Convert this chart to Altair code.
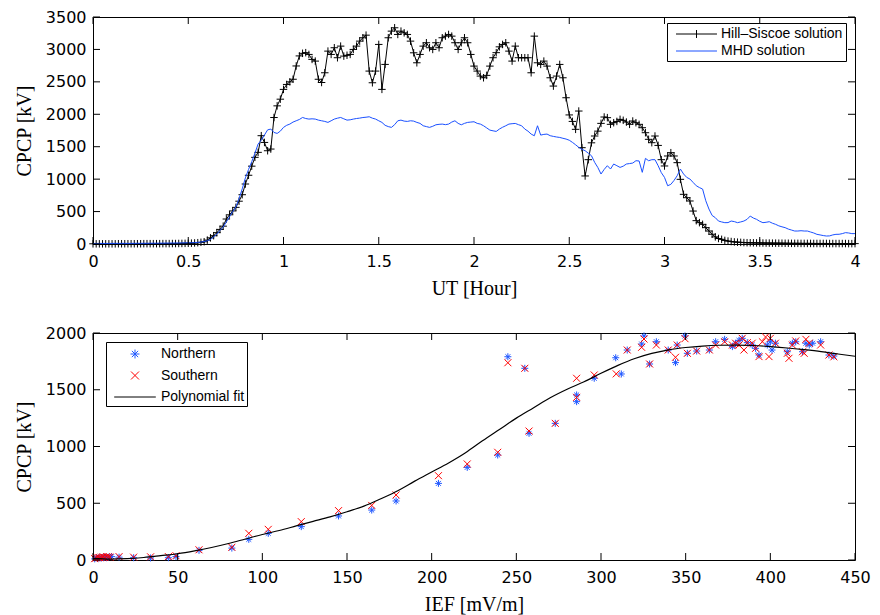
import altair as alt
import pandas as pd

# ---------------- top panel data (one value per minute, 0..4 h) ----------------
UT_MINUTES = list(range(241))
HILL_SISCOE = [
    3, 3, 3, 3, 3, 3, 3, 3, 4, 4,
    4, 4, 4, 4, 4, 4, 5, 5, 5, 5,
    5, 5, 6, 6, 6, 7, 7, 8, 9, 10,
    11, 13, 16, 20, 26, 35, 60, 95, 128, 175,
    225, 275, 385, 450, 510, 565, 660, 760, 925, 1060,
    1200, 1336, 1413, 1670, 1566, 1438, 1464, 1950, 2130, 2233,
    2384, 2460, 2500, 2540, 2745, 2900, 2940, 2950, 2923, 2846,
    2820, 2540, 2490, 2640, 2974, 2923, 3026, 2872, 3051, 2897,
    2910, 2923, 3000, 3051, 3128, 3180, 3220, 2666, 2486, 2666,
    3077, 2384, 2769, 3180, 3282, 3334, 3231, 3282, 3256, 3231,
    3128, 2948, 2794, 2923, 3051, 3103, 3026, 3000, 3103, 3026,
    3180, 3205, 3231, 3205, 3103, 3000, 3103, 3180, 3103, 2923,
    2743, 2666, 2589, 2563, 2600, 2743, 2872, 2950, 3040, 3077,
    3103, 2974, 2820, 3051, 2872, 2872, 2872, 2872, 2640, 3205,
    2794, 2769, 2820, 2743, 2563, 2435, 2589, 2769, 2563, 2255,
    1990, 1890, 1768, 2050, 1485, 1049, 1300, 1560, 1665, 1740,
    1860, 1958, 1948, 1845, 1870, 1890, 1922, 1907, 1880, 1845,
    1896, 1870, 1845, 1793, 1716, 1614, 1562, 1665, 1520, 1300,
    1203, 1357, 1408, 1357, 1254, 997, 766, 714, 663, 508,
    360, 329, 303, 252, 200, 150, 110, 85, 72, 55,
    45, 38, 32, 28, 25, 22, 20, 19, 18, 17,
    16, 15, 14, 14, 13, 13, 12, 12, 11, 11,
    10, 10, 10, 9, 9, 9, 9, 8, 8, 8,
    8, 8, 7, 7, 7, 7, 7, 7, 6, 6, 6,
]
MHD = [
    8, 8, 9, 9, 8, 9, 9, 10, 9, 10,
    10, 9, 10, 10, 11, 10, 11, 11, 12, 12,
    12, 13, 13, 14, 14, 15, 15, 16, 17, 18,
    19, 20, 22, 25, 30, 38, 50, 70, 110, 150,
    210, 260, 340, 420, 500, 570, 700, 850, 1020, 1150,
    1270, 1400, 1541, 1600, 1680, 1760, 1772, 1720, 1705, 1740,
    1798, 1830, 1849, 1880, 1900, 1920, 1951, 1935, 1926, 1930,
    1926, 1910, 1900, 1890, 1875, 1900, 1926, 1940, 1951, 1930,
    1910, 1915, 1926, 1935, 1941, 1950, 1955, 1962, 1940, 1926,
    1900, 1875, 1830, 1810, 1798, 1840, 1900, 1910, 1895, 1890,
    1900, 1895, 1875, 1860, 1823, 1810, 1798, 1815, 1838, 1845,
    1849, 1840, 1849, 1880, 1900, 1860, 1838, 1860, 1875, 1880,
    1885, 1860, 1849, 1823, 1790, 1756, 1745, 1736, 1772, 1800,
    1823, 1849, 1855, 1859, 1840, 1823, 1772, 1740, 1695, 1669,
    1823, 1679, 1690, 1695, 1670, 1659, 1650, 1643, 1630, 1618,
    1600, 1567, 1530, 1490, 1460, 1438, 1400, 1361, 1259, 1180,
    1079, 1150, 1207, 1156, 1233, 1207, 1181, 1200, 1233, 1240,
    1248, 1284, 1280, 1105, 1320, 1284, 1300, 1300, 1207, 1100,
    1027, 898, 920, 980, 1053, 1156, 1080, 1027, 1002, 950,
    898, 870, 847, 667, 539, 440, 406, 354, 340, 329,
    330, 354, 345, 329, 340, 354, 380, 431, 400, 380,
    350, 329, 335, 344, 320, 303, 280, 265, 252, 230,
    215, 200, 200, 205, 200, 200, 185, 170, 149, 140,
    130, 123, 125, 140, 149, 150, 160, 175, 170, 160, 160,
]
TOP_SERIES = ["Hill–Siscoe solution", "MHD solution"]
TOP_X_TICKS = [0, 0.5, 1, 1.5, 2, 2.5, 3, 3.5, 4]
TOP_Y_TICKS = [0, 500, 1000, 1500, 2000, 2500, 3000, 3500]

# ---------------- bottom panel data ----------------
NORTH_IEF = [1, 2, 3, 4, 5, 6, 7, 8, 9, 11,
             15.4, 24, 34, 44.5, 49, 62.6, 82, 92, 103.5, 123,
             145, 164.6, 179, 204, 221, 239, 245, 255, 257.5, 273,
             285.6, 285.6, 296, 308.7, 312, 315.5, 324, 325.4, 328.7, 332.7,
             339.7, 344, 345, 349.6, 351, 356.5, 364, 367.7, 373, 377.6,
             379.5, 381.5, 383.4, 386.4, 389.3, 391.3, 393.3, 398.2, 400, 401,
             403, 410, 413, 415, 419, 421, 423, 425, 429.7, 434.6, 437.5]
NORTH_CPCP = [10, 20, 15, 25, 18, 22, 28, 20, 25, 30,
              25, 20, 18, 20, 30, 85, 105, 182, 235, 294,
              388, 440, 520, 675, 816, 925, 1791, 1689, 1116, 1204,
              1454, 1395, 1601, 1782, 1639, 1850, 1903, 1974, 1727, 1923,
              1850, 1739, 1894, 1974, 1821, 1841, 1850, 1923, 1944, 1880,
              1910, 1935, 1953, 1915, 1894, 1865, 1806, 1894, 1923, 1850,
              1910, 1835, 1910, 1923, 1835, 1910, 1894, 1910, 1923, 1806, 1797]
SOUTH_IEF = [1, 2, 3, 4, 5, 6, 7, 8, 9, 10,
             15.4, 24, 34, 44.5, 49, 62.6, 82, 92, 103.5, 123,
             145, 164.6, 179, 204, 221, 239, 245, 255, 257.5, 273,
             285.6, 285.6, 296, 309, 315.5, 324, 325.4, 328.7, 332.7, 339.7,
             344, 345, 349.6, 351, 356.5, 364, 367.7, 373, 377.6, 379.5,
             381.5, 383.4, 384.4, 386.4, 389.3, 391.3, 393.3, 395.3, 397.2, 399.2,
             400, 403, 410, 411, 413, 415, 419, 420, 421, 423,
             429.7, 434.6, 437.5]
SOUTH_CPCP = [12, 18, 22, 20, 25, 28, 22, 30, 28, 25,
              30, 25, 28, 30, 38, 90, 112, 235, 270, 338,
              435, 481, 573, 743, 846, 949, 1738, 1689, 1136, 1204,
              1601, 1433, 1630, 1640, 1850, 1874, 1947, 1727, 1894, 1850,
              1786, 1894, 1950, 1821, 1841, 1850, 1894, 1923, 1894, 1910,
              1894, 1953, 1850, 1915, 1910, 1865, 1792, 1923, 1965, 1792,
              1953, 1910, 1821, 1777, 1894, 1930, 1835, 1821, 1944, 1910,
              1894, 1806, 1790]
FIT_IEF = [0, 10, 20, 30, 40, 50, 60, 70, 80, 90,
           100, 110, 120, 130, 140, 150, 160, 170, 180, 190,
           200, 210, 220, 230, 240, 250, 260, 270, 280, 290,
           300, 310, 320, 330, 340, 350, 360, 370, 380, 390,
           400, 410, 420, 430, 440, 450]
FIT_CPCP = [15, 8, 12, 22, 38, 55, 80, 110, 145, 185,
            225, 260, 300, 340, 380, 425, 475, 540, 610, 695,
            775, 855, 945, 1050, 1150, 1250, 1340, 1430, 1505, 1570,
            1645, 1715, 1775, 1820, 1852, 1872, 1885, 1892, 1894, 1890,
            1880, 1868, 1853, 1836, 1815, 1795]
BOT_SERIES = ["Northern", "Southern", "Polynomial fit"]
BOT_X_TICKS = [0, 50, 100, 150, 200, 250, 300, 350, 400, 450]
BOT_Y_TICKS = [0, 500, 1000, 1500, 2000]

# ---------------- styling ----------------
W, H = 762, 227
TICK_LEN = 7
BLUE = "#1a50ff"
NBLUE = "#2058ff"
RED = "#ff0000"
PLUS = "M-1,0L1,0M0,-1L0,1"
ASTER = "M-1,0L1,0M0,-1L0,1M-0.7,-0.7L0.7,0.7M-0.7,0.7L0.7,-0.7"
CROSS = "M-1,-1L1,1M-1,1L1,-1"


def inner_ticks(xvals, yvals, xtitle, ytitle):
    xt = pd.DataFrame({"v": xvals})
    yt = pd.DataFrame({"v": yvals})
    rule = dict(color="black", strokeWidth=1)
    b = alt.Chart(xt).mark_rule(**rule).encode(
        x=alt.X("v:Q", title=xtitle), y=alt.value(H - TICK_LEN), y2=alt.value(H))
    t = alt.Chart(xt).mark_rule(**rule).encode(
        x=alt.X("v:Q", title=xtitle), y=alt.value(0), y2=alt.value(TICK_LEN))
    l = alt.Chart(yt).mark_rule(**rule).encode(
        y=alt.Y("v:Q", title=ytitle), x=alt.value(0), x2=alt.value(TICK_LEN))
    r = alt.Chart(yt).mark_rule(**rule).encode(
        y=alt.Y("v:Q", title=ytitle), x=alt.value(W - TICK_LEN), x2=alt.value(W))
    return [b, t, l, r]


# ---------------- top panel ----------------
ut = [m / 60 for m in UT_MINUTES]
top_df = pd.DataFrame({
    "ut": ut + ut,
    "cpcp": HILL_SISCOE + MHD,
    "series": [TOP_SERIES[0]] * len(ut) + [TOP_SERIES[1]] * len(ut),
})

top_x = alt.X("ut:Q", title="UT [Hour]",
              scale=alt.Scale(domain=[0, 4], nice=False, zero=False),
              axis=alt.Axis(values=TOP_X_TICKS, labelExpr="'' + datum.value",
                            labelFlush=False, labelPadding=9, titlePadding=9))
top_y = alt.Y("cpcp:Q", title="CPCP [kV]",
              scale=alt.Scale(domain=[0, 3500], nice=False),
              axis=alt.Axis(values=TOP_Y_TICKS, format="d", labelBound=False,
                            tickCount=len(TOP_Y_TICKS), labelFlush=False,
                            labelPadding=7, titlePadding=11))

top_shape_expr = ("datum.value === '" + TOP_SERIES[0] +
                  "' ? 'M-2.73,0L2.73,0M0,-0.53L0,0.53' : 'M-2.73,0L2.73,0'")
top_legend = alt.Legend(
    title=None, orient="none", legendX=574, legendY=6,
    fillColor="white", strokeColor="black", padding=3,
    symbolSize=225, symbolStrokeWidth=1, symbolOffset=18.5, labelOffset=16.5,
    rowPadding=2, symbolType={"expr": top_shape_expr},
    symbolFillColor="transparent",
    labelFont="Liberation Sans", labelFontSize=14, labelColor="black",
)
top_color = alt.Color("series:N", scale=alt.Scale(domain=TOP_SERIES, range=["black", BLUE]),
                      legend=top_legend)

base_top = alt.Chart(top_df)
hs_line = base_top.transform_filter(alt.datum.series == TOP_SERIES[0]).mark_line(
    strokeWidth=1).encode(x=top_x, y=top_y, color=top_color)
hs_pts = base_top.transform_filter(alt.datum.series == TOP_SERIES[0]).mark_point(
    shape=PLUS, size=56, filled=False, strokeWidth=1, color="black", opacity=1).encode(
    x=top_x, y=top_y)
mhd_line = base_top.transform_filter(alt.datum.series == TOP_SERIES[1]).mark_line(
    strokeWidth=1).encode(x=top_x, y=top_y, color=top_color)

top = alt.layer(hs_line, hs_pts, mhd_line,
                *inner_ticks(TOP_X_TICKS, TOP_Y_TICKS, "UT [Hour]", "CPCP [kV]"),
                ).properties(width=W, height=H)

# ---------------- bottom panel ----------------
scat_df = pd.DataFrame({
    "ief": NORTH_IEF + SOUTH_IEF,
    "cpcp": NORTH_CPCP + SOUTH_CPCP,
    "series": ["Northern"] * len(NORTH_IEF) + ["Southern"] * len(SOUTH_IEF),
})
fit_df = pd.DataFrame({"ief": FIT_IEF, "cpcp": FIT_CPCP,
                       "series": ["Polynomial fit"] * len(FIT_IEF)})

bot_x = alt.X("ief:Q", title="IEF [mV/m]",
              scale=alt.Scale(domain=[0, 450], nice=False, zero=False),
              axis=alt.Axis(values=BOT_X_TICKS, format="d", labelFlush=False,
                            labelPadding=9, titlePadding=9))
bot_y = alt.Y("cpcp:Q", title="CPCP [kV]",
              scale=alt.Scale(domain=[0, 2000], nice=False),
              axis=alt.Axis(values=BOT_Y_TICKS, format="d", labelPadding=7, titlePadding=11))

bot_shape_expr = (
    "datum.value === 'Northern' ? "
    "'M-0.47,0L0.47,0M0,-0.47L0,0.47M-0.33,-0.33L0.33,0.33M-0.33,0.33L0.33,-0.33' : "
    "(datum.value === 'Southern' ? 'M-0.42,-0.42L0.42,0.42M-0.42,0.42L0.42,-0.42' : "
    "'M-2.19,0L2.19,0')"
)
bot_legend = alt.Legend(
    title=None, orient="none", legendX=13, legendY=9,
    fillColor="white", strokeColor="black", padding=2,
    symbolSize=361, symbolStrokeWidth=1, symbolOffset=17, labelOffset=16,
    rowPadding=4.5, symbolType={"expr": bot_shape_expr},
    symbolFillColor="transparent",
    labelFont="Liberation Sans", labelFontSize=14, labelColor="black",
)
bot_color = alt.Color("series:N", scale=alt.Scale(domain=BOT_SERIES, range=[NBLUE, RED, "black"]),
                      legend=bot_legend)

scatter = alt.Chart(scat_df).mark_point(filled=False, size=49, strokeWidth=1, opacity=1).encode(
    x=bot_x, y=bot_y, color=bot_color,
    shape=alt.Shape("series:N", scale=alt.Scale(domain=["Northern", "Southern"],
                                                range=[ASTER, CROSS]), legend=None),
)
fit = alt.Chart(fit_df).mark_line(strokeWidth=1.2, interpolate="monotone").encode(
    x=bot_x, y=bot_y, color=bot_color)

bottom = alt.layer(scatter, fit,
                   *inner_ticks(BOT_X_TICKS, BOT_Y_TICKS, "IEF [mV/m]", "CPCP [kV]"),
                   ).properties(width=W, height=H)

chart = alt.vconcat(top, bottom, spacing=25).resolve_scale(
    color="independent", shape="independent"
).resolve_legend(color="independent").properties(
    padding={"left": 13, "top": 8, "right": 5, "bottom": 5},
    background="white",
).configure_view(stroke="black", strokeWidth=1).configure_axis(
    labelFont="DejaVu Sans", labelFontSize=16, labelColor="black", labelOverlap=False,
    titleFont="Liberation Serif", titleFontSize=20, titleFontWeight="normal",
    titleColor="black", grid=False, ticks=False, domain=False,
)

chart.save("out.html", embed_options={"renderer": "svg", "actions": False})
